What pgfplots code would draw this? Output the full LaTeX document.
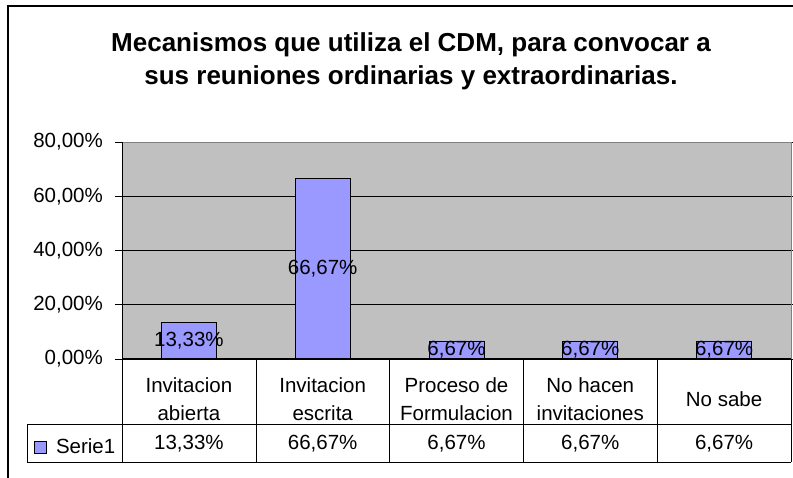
\documentclass[border=0pt]{standalone}
\usepackage{pgfplots}
\pgfplotsset{compat=1.18}
\usepackage{pgfplotstable}
\usepackage{fontspec}
\setmainfont{Liberation Sans}
\definecolor{barblue}{HTML}{9999FF}
\definecolor{plotgray}{HTML}{C0C0C0}
\definecolor{bordergray}{HTML}{808080}
\pgfplotstableread{
x y
0 13.33
1 66.67
2 6.67
3 6.67
4 6.67
}\datatable
\newcommand\tabfont{\fontsize{20.5}{28}\selectfont}
\begin{document}
\begin{tikzpicture}
\draw[line width=2pt] (8pt,-20pt) -- (8pt,471pt) -- (820pt,471pt);
\node[align=center, font=\fontsize{26}{33}\selectfont\bfseries] at (411pt,416pt) {Mecanismos que utiliza el CDM, para convocar a\\sus reuniones ordinarias y extraordinarias.};
\begin{axis}[
  at={(122pt,118pt)}, anchor=south west,
  scale only axis, width=669pt, height=217pt,
  xmin=-0.5, xmax=4.5, ymin=0, ymax=80,
  axis background/.style={fill=plotgray},
  axis line style={draw=bordergray, line width=1pt},
  ytick={0,20,40,60,80},
  yticklabel={\pgfmathprintnumber[fixed,fixed zerofill,precision=2,use comma]{\tick}\%},
  ymajorgrids, grid style={black, line width=0.8pt},
  tick align=outside, major tick length=7pt,
  ytick style={black, line width=0.8pt},
  xtick style={draw=none},
  xtick={0,1,2,3,4},
  xticklabels={{Invitacion\\abierta},{Invitacion\\escrita},{Proceso de\\Formulacion},{No hacen\\invitaciones},{No sabe}},
  xticklabel style={font=\tabfont, align=center, anchor=center, inner sep=0pt, yshift=-33pt},
  yticklabel style={font=\tabfont, inner sep=0pt, anchor=east, xshift=-12pt},
  clip=false,
  /pgf/number format/assume math mode=true,
  legend style={at={(-0.1315,-0.4055)}, anchor=west, draw=none, fill=none, inner sep=0pt, font=\tabfont, legend cell align=left},
  legend image code/.code={\draw[fill=barblue, draw=black, line width=0.8pt] (0pt,-6pt) rectangle (12pt,6pt); \path (19pt,0pt);},
]
\addplot[ybar, bar width=55pt, fill=barblue, draw=black, line width=0.8pt] table[x=x,y=y]{\datatable};
\addlegendentry{Serie1}
\addplot[forget plot, draw=none, mark=none, point meta=explicit,
  nodes near coords={\pgfmathprintnumber[fixed,fixed zerofill,precision=2,use comma]{\pgfplotspointmeta}\%},
  every node near coord/.append style={font=\tabfont, anchor=center, inner sep=0pt}]
  table[x=x, y expr=\thisrow{y}/2, meta=y]{\datatable};
\addplot[forget plot, draw=none, mark=none, point meta=explicit,
  nodes near coords={\pgfmathprintnumber[fixed,fixed zerofill,precision=2,use comma]{\pgfplotspointmeta}\%},
  every node near coord/.append style={font=\tabfont, anchor=center, inner sep=0pt}]
  table[x=x, y expr=-31.15, meta=y]{\datatable};
\end{axis}
\begin{scope}[black, line width=1pt]
\draw (122pt,335pt) -- (122pt,15pt);
\draw (122pt,118pt) -- (791pt,118pt);
\draw (27pt,52pt) -- (791pt,52pt);
\draw (27pt,15pt) -- (791pt,15pt);
\draw (27pt,52pt) -- (27pt,15pt);
\foreach \xx in {256,389,523,657,791} \draw (\xx pt,118pt) -- (\xx pt,15pt);
\end{scope}
\pgfresetboundingbox
\path[use as bounding box] (0pt,0pt) rectangle (793pt,477pt);
\end{tikzpicture}
\end{document}
